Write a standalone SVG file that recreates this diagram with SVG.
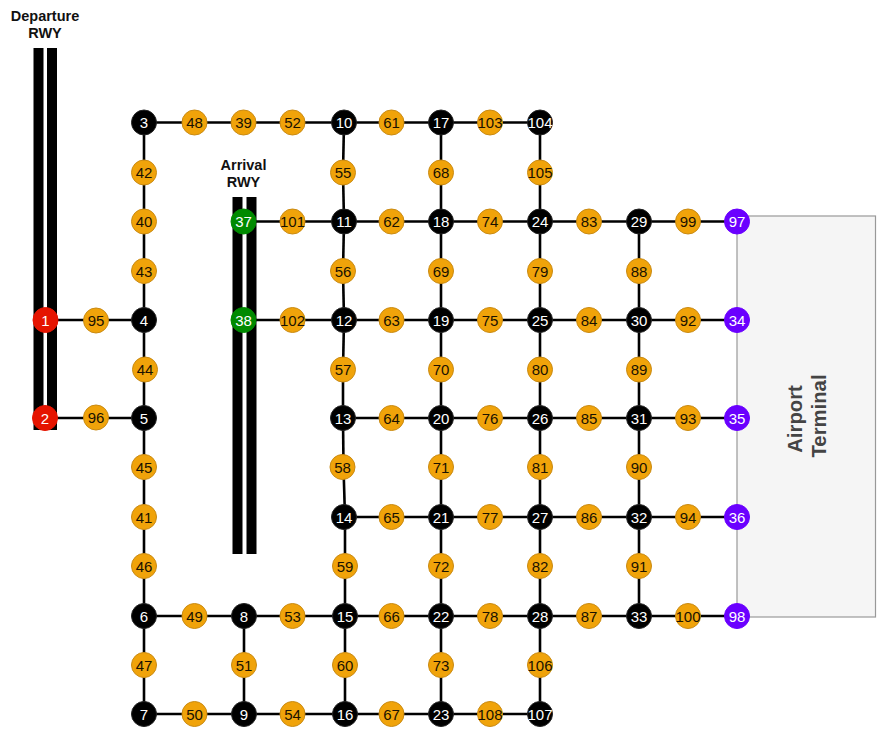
<svg xmlns="http://www.w3.org/2000/svg" width="890" height="746" viewBox="0 0 890 746">
<style>
text{font-family:"Liberation Sans",Arial,sans-serif}
.n text{font-size:15px;text-anchor:middle;dominant-baseline:central}
.n circle{stroke-width:1}
.o circle{fill:#f0a30a;stroke:#c98a12}
.o text{fill:#1a1200}
.b circle{fill:#000;stroke:#222}
.r circle{fill:#e51400;stroke:#e51400}
.g circle{fill:#008a00;stroke:#008a00}
.p circle{fill:#6a00ff;stroke:#6a00ff}
.b text,.r text,.g text,.p text{fill:#fff}
.rw{fill:#000}
.lb{font-size:14.5px;font-weight:bold;text-anchor:middle;fill:#111}
#edges line{stroke:#000;stroke-width:2.6}
</style>
<g id="terminal"><rect x="737" y="216" width="138.500" height="401" fill="#f5f5f5" stroke="#999" stroke-width="1.200"/>
<text transform="translate(801.700,419) rotate(-90)" text-anchor="middle" font-size="20.300" font-weight="bold" fill="#444">Airport</text>
<text transform="translate(825.700,416) rotate(-90)" text-anchor="middle" font-size="20.300" font-weight="bold" fill="#444">Terminal</text></g>
<g id="departure-rwy"><rect class="rw" x="33.500" y="48" width="10" height="382"/><rect class="rw" x="47" y="48" width="10" height="382"/><text class="lb" x="45" y="21">Departure</text><text class="lb" x="45" y="38">RWY</text></g>
<g id="arrival-rwy"><rect class="rw" x="232.500" y="197" width="10" height="357"/><rect class="rw" x="246.500" y="197" width="10" height="357"/><text class="lb" x="243.500" y="170">Arrival</text><text class="lb" x="243.500" y="187">RWY</text></g>
<g id="edges">
<line x1="144" y1="122.500" x2="194.500" y2="122.500"/><line x1="194.500" y1="122.500" x2="243.500" y2="122.500"/><line x1="243.500" y1="122.500" x2="292.500" y2="122.500"/><line x1="292.500" y1="122.500" x2="344" y2="122.500"/><line x1="344" y1="122.500" x2="391.500" y2="122.500"/><line x1="391.500" y1="122.500" x2="441" y2="122.500"/><line x1="441" y1="122.500" x2="490" y2="122.500"/><line x1="490" y1="122.500" x2="540" y2="122.500"/>
<line x1="243.500" y1="221.500" x2="292.500" y2="221.500"/><line x1="292.500" y1="221.500" x2="344" y2="221.500"/><line x1="344" y1="221.500" x2="391.500" y2="221.500"/><line x1="391.500" y1="221.500" x2="441" y2="221.500"/><line x1="441" y1="221.500" x2="490" y2="221.500"/><line x1="490" y1="221.500" x2="540" y2="221.500"/><line x1="540" y1="221.500" x2="589" y2="221.500"/><line x1="589" y1="221.500" x2="639" y2="221.500"/><line x1="639" y1="221.500" x2="688" y2="221.500"/><line x1="688" y1="221.500" x2="737" y2="221.500"/>
<line x1="45.500" y1="320" x2="96" y2="320"/><line x1="96" y1="320" x2="144" y2="320"/>
<line x1="243.500" y1="320" x2="292.500" y2="320"/><line x1="292.500" y1="320" x2="344" y2="320"/><line x1="344" y1="320" x2="391.500" y2="320"/><line x1="391.500" y1="320" x2="441" y2="320"/><line x1="441" y1="320" x2="490" y2="320"/><line x1="490" y1="320" x2="540" y2="320"/><line x1="540" y1="320" x2="589" y2="320"/><line x1="589" y1="320" x2="639" y2="320"/><line x1="639" y1="320" x2="688" y2="320"/><line x1="688" y1="320" x2="737" y2="320"/>
<line x1="45" y1="418" x2="96" y2="418"/><line x1="96" y1="418" x2="144" y2="418"/>
<line x1="343" y1="418" x2="391.500" y2="418"/><line x1="391.500" y1="418" x2="441" y2="418"/><line x1="441" y1="418" x2="490" y2="418"/><line x1="490" y1="418" x2="540" y2="418"/><line x1="540" y1="418" x2="589" y2="418"/><line x1="589" y1="418" x2="639" y2="418"/><line x1="639" y1="418" x2="688" y2="418"/><line x1="688" y1="418" x2="737" y2="418"/>
<line x1="344" y1="517" x2="391.500" y2="517"/><line x1="391.500" y1="517" x2="441" y2="517"/><line x1="441" y1="517" x2="490" y2="517"/><line x1="490" y1="517" x2="540" y2="517"/><line x1="540" y1="517" x2="589" y2="517"/><line x1="589" y1="517" x2="639" y2="517"/><line x1="639" y1="517" x2="688" y2="517"/><line x1="688" y1="517" x2="737" y2="517"/>
<line x1="144" y1="616" x2="194.500" y2="616"/><line x1="194.500" y1="616" x2="243.500" y2="616"/><line x1="243.500" y1="616" x2="292.500" y2="616"/><line x1="292.500" y1="616" x2="344" y2="616"/><line x1="344" y1="616" x2="391.500" y2="616"/><line x1="391.500" y1="616" x2="441" y2="616"/><line x1="441" y1="616" x2="490" y2="616"/><line x1="490" y1="616" x2="540" y2="616"/><line x1="540" y1="616" x2="589" y2="616"/><line x1="589" y1="616" x2="639" y2="616"/><line x1="639" y1="616" x2="688" y2="616"/><line x1="688" y1="616" x2="737" y2="616"/>
<line x1="144" y1="714" x2="194.500" y2="714"/><line x1="194.500" y1="714" x2="243.500" y2="714"/><line x1="243.500" y1="714" x2="292.500" y2="714"/><line x1="292.500" y1="714" x2="344" y2="714"/><line x1="344" y1="714" x2="391.500" y2="714"/><line x1="391.500" y1="714" x2="441" y2="714"/><line x1="441" y1="714" x2="490" y2="714"/><line x1="490" y1="714" x2="540" y2="714"/>
<line x1="144" y1="122.500" x2="144" y2="172.500"/><line x1="144" y1="172.500" x2="144" y2="221.500"/><line x1="144" y1="221.500" x2="144" y2="271"/><line x1="144" y1="271" x2="144" y2="320"/><line x1="144" y1="320" x2="144" y2="369.500"/><line x1="144" y1="369.500" x2="144" y2="418"/><line x1="144" y1="418" x2="144" y2="467"/><line x1="144" y1="467" x2="144" y2="517"/><line x1="144" y1="517" x2="144" y2="566"/><line x1="144" y1="566" x2="144" y2="616"/><line x1="144" y1="616" x2="144" y2="665"/><line x1="144" y1="665" x2="144" y2="714"/>
<line x1="244" y1="616" x2="244" y2="665"/><line x1="244" y1="665" x2="244" y2="714"/>
<line x1="344" y1="122.500" x2="343" y2="172.500"/><line x1="343" y1="172.500" x2="344" y2="221.500"/><line x1="344" y1="221.500" x2="343" y2="271"/><line x1="343" y1="271" x2="344" y2="320"/><line x1="344" y1="320" x2="343" y2="369.500"/><line x1="343" y1="369.500" x2="343" y2="418"/><line x1="343" y1="418" x2="343.500" y2="467"/><line x1="343.500" y1="467" x2="345" y2="517"/><line x1="345" y1="517" x2="345" y2="566"/><line x1="345" y1="566" x2="345" y2="616"/><line x1="345" y1="616" x2="345" y2="665"/><line x1="345" y1="665" x2="345" y2="714"/>
<line x1="441" y1="122.500" x2="441" y2="172.500"/><line x1="441" y1="172.500" x2="441" y2="221.500"/><line x1="441" y1="221.500" x2="441" y2="271"/><line x1="441" y1="271" x2="441" y2="320"/><line x1="441" y1="320" x2="441" y2="369.500"/><line x1="441" y1="369.500" x2="441" y2="418"/><line x1="441" y1="418" x2="441" y2="467"/><line x1="441" y1="467" x2="441" y2="517"/><line x1="441" y1="517" x2="441" y2="566"/><line x1="441" y1="566" x2="441" y2="616"/><line x1="441" y1="616" x2="441" y2="665"/><line x1="441" y1="665" x2="441" y2="714"/>
<line x1="540" y1="122.500" x2="540" y2="172.500"/><line x1="540" y1="172.500" x2="540" y2="221.500"/><line x1="540" y1="221.500" x2="540" y2="271"/><line x1="540" y1="271" x2="540" y2="320"/><line x1="540" y1="320" x2="540" y2="369.500"/><line x1="540" y1="369.500" x2="540" y2="418"/><line x1="540" y1="418" x2="540" y2="467"/><line x1="540" y1="467" x2="540" y2="517"/><line x1="540" y1="517" x2="540" y2="566"/><line x1="540" y1="566" x2="540" y2="616"/><line x1="540" y1="616" x2="540" y2="665"/><line x1="540" y1="665" x2="540" y2="714"/>
<line x1="639" y1="221.500" x2="639" y2="271"/><line x1="639" y1="271" x2="639" y2="320"/><line x1="639" y1="320" x2="639" y2="369.500"/><line x1="639" y1="369.500" x2="639" y2="418"/><line x1="639" y1="418" x2="639" y2="467"/><line x1="639" y1="467" x2="639" y2="517"/><line x1="639" y1="517" x2="639" y2="566"/><line x1="639" y1="566" x2="639" y2="616"/>
</g>
<g id="nodes">
<g id="n1" class="n r"><circle cx="45.500" cy="320" r="12.500"/><text x="45.500" y="320">1</text></g>
<g id="n2" class="n r"><circle cx="45" cy="418" r="12.500"/><text x="45" y="418">2</text></g>
<g id="n3" class="n b"><circle cx="144" cy="122.500" r="12.500"/><text x="144" y="122.500">3</text></g>
<g id="n4" class="n b"><circle cx="144" cy="320" r="12.500"/><text x="144" y="320">4</text></g>
<g id="n5" class="n b"><circle cx="144" cy="418" r="12.500"/><text x="144" y="418">5</text></g>
<g id="n6" class="n b"><circle cx="144" cy="616" r="12.500"/><text x="144" y="616">6</text></g>
<g id="n7" class="n b"><circle cx="144" cy="714" r="12.500"/><text x="144" y="714">7</text></g>
<g id="n8" class="n b"><circle cx="244" cy="616" r="12.500"/><text x="244" y="616">8</text></g>
<g id="n9" class="n b"><circle cx="244" cy="714" r="12.500"/><text x="244" y="714">9</text></g>
<g id="n10" class="n b"><circle cx="344" cy="122.500" r="12.500"/><text x="344" y="122.500">10</text></g>
<g id="n11" class="n b"><circle cx="344" cy="221.500" r="12.500"/><text x="344" y="221.500">11</text></g>
<g id="n12" class="n b"><circle cx="344" cy="320" r="12.500"/><text x="344" y="320">12</text></g>
<g id="n13" class="n b"><circle cx="343" cy="418" r="12.500"/><text x="343" y="418">13</text></g>
<g id="n14" class="n b"><circle cx="344" cy="517" r="12.500"/><text x="344" y="517">14</text></g>
<g id="n15" class="n b"><circle cx="345" cy="616" r="12.500"/><text x="345" y="616">15</text></g>
<g id="n16" class="n b"><circle cx="345" cy="714" r="12.500"/><text x="345" y="714">16</text></g>
<g id="n17" class="n b"><circle cx="441" cy="122.500" r="12.500"/><text x="441" y="122.500">17</text></g>
<g id="n18" class="n b"><circle cx="441" cy="221.500" r="12.500"/><text x="441" y="221.500">18</text></g>
<g id="n19" class="n b"><circle cx="441" cy="320" r="12.500"/><text x="441" y="320">19</text></g>
<g id="n20" class="n b"><circle cx="441" cy="418" r="12.500"/><text x="441" y="418">20</text></g>
<g id="n21" class="n b"><circle cx="441" cy="517" r="12.500"/><text x="441" y="517">21</text></g>
<g id="n22" class="n b"><circle cx="441" cy="616" r="12.500"/><text x="441" y="616">22</text></g>
<g id="n23" class="n b"><circle cx="441" cy="714" r="12.500"/><text x="441" y="714">23</text></g>
<g id="n24" class="n b"><circle cx="540" cy="221.500" r="12.500"/><text x="540" y="221.500">24</text></g>
<g id="n25" class="n b"><circle cx="540" cy="320" r="12.500"/><text x="540" y="320">25</text></g>
<g id="n26" class="n b"><circle cx="540" cy="418" r="12.500"/><text x="540" y="418">26</text></g>
<g id="n27" class="n b"><circle cx="540" cy="517" r="12.500"/><text x="540" y="517">27</text></g>
<g id="n28" class="n b"><circle cx="540" cy="616" r="12.500"/><text x="540" y="616">28</text></g>
<g id="n29" class="n b"><circle cx="639" cy="221.500" r="12.500"/><text x="639" y="221.500">29</text></g>
<g id="n30" class="n b"><circle cx="639" cy="320" r="12.500"/><text x="639" y="320">30</text></g>
<g id="n31" class="n b"><circle cx="639" cy="418" r="12.500"/><text x="639" y="418">31</text></g>
<g id="n32" class="n b"><circle cx="639" cy="517" r="12.500"/><text x="639" y="517">32</text></g>
<g id="n33" class="n b"><circle cx="639" cy="616" r="12.500"/><text x="639" y="616">33</text></g>
<g id="n104" class="n b"><circle cx="540" cy="122.500" r="12.500"/><text x="540" y="122.500">104</text></g>
<g id="n107" class="n b"><circle cx="540" cy="714" r="12.500"/><text x="540" y="714">107</text></g>
<g id="n34" class="n p"><circle cx="737" cy="320" r="12.500"/><text x="737" y="320">34</text></g>
<g id="n35" class="n p"><circle cx="737" cy="418" r="12.500"/><text x="737" y="418">35</text></g>
<g id="n36" class="n p"><circle cx="737" cy="517" r="12.500"/><text x="737" y="517">36</text></g>
<g id="n97" class="n p"><circle cx="737" cy="221.500" r="12.500"/><text x="737" y="221.500">97</text></g>
<g id="n98" class="n p"><circle cx="737" cy="616" r="12.500"/><text x="737" y="616">98</text></g>
<g id="n37" class="n g"><circle cx="243.500" cy="221.500" r="12.500"/><text x="243.500" y="221.500">37</text></g>
<g id="n38" class="n g"><circle cx="243.500" cy="320" r="12.500"/><text x="243.500" y="320">38</text></g>
<g id="n39" class="n o"><circle cx="243.500" cy="122.500" r="12.500"/><text x="243.500" y="122.500">39</text></g>
<g id="n40" class="n o"><circle cx="144" cy="221.500" r="12.500"/><text x="144" y="221.500">40</text></g>
<g id="n41" class="n o"><circle cx="144" cy="517" r="12.500"/><text x="144" y="517">41</text></g>
<g id="n42" class="n o"><circle cx="144" cy="172.500" r="12.500"/><text x="144" y="172.500">42</text></g>
<g id="n43" class="n o"><circle cx="144" cy="271" r="12.500"/><text x="144" y="271">43</text></g>
<g id="n44" class="n o"><circle cx="145" cy="369.500" r="12.500"/><text x="145" y="369.500">44</text></g>
<g id="n45" class="n o"><circle cx="144" cy="467" r="12.500"/><text x="144" y="467">45</text></g>
<g id="n46" class="n o"><circle cx="144" cy="566" r="12.500"/><text x="144" y="566">46</text></g>
<g id="n47" class="n o"><circle cx="144" cy="665" r="12.500"/><text x="144" y="665">47</text></g>
<g id="n48" class="n o"><circle cx="194.500" cy="122.500" r="12.500"/><text x="194.500" y="122.500">48</text></g>
<g id="n49" class="n o"><circle cx="194.500" cy="616" r="12.500"/><text x="194.500" y="616">49</text></g>
<g id="n50" class="n o"><circle cx="194.500" cy="714" r="12.500"/><text x="194.500" y="714">50</text></g>
<g id="n51" class="n o"><circle cx="244" cy="665" r="12.500"/><text x="244" y="665">51</text></g>
<g id="n52" class="n o"><circle cx="292.500" cy="122.500" r="12.500"/><text x="292.500" y="122.500">52</text></g>
<g id="n53" class="n o"><circle cx="292.500" cy="616" r="12.500"/><text x="292.500" y="616">53</text></g>
<g id="n54" class="n o"><circle cx="292.500" cy="714" r="12.500"/><text x="292.500" y="714">54</text></g>
<g id="n55" class="n o"><circle cx="343" cy="172.500" r="12.500"/><text x="343" y="172.500">55</text></g>
<g id="n56" class="n o"><circle cx="343" cy="271" r="12.500"/><text x="343" y="271">56</text></g>
<g id="n57" class="n o"><circle cx="343" cy="369.500" r="12.500"/><text x="343" y="369.500">57</text></g>
<g id="n58" class="n o"><circle cx="342.500" cy="467" r="12.500"/><text x="342.500" y="467">58</text></g>
<g id="n59" class="n o"><circle cx="345" cy="566" r="12.500"/><text x="345" y="566">59</text></g>
<g id="n60" class="n o"><circle cx="345" cy="665" r="12.500"/><text x="345" y="665">60</text></g>
<g id="n61" class="n o"><circle cx="391.500" cy="122.500" r="12.500"/><text x="391.500" y="122.500">61</text></g>
<g id="n62" class="n o"><circle cx="391.500" cy="221.500" r="12.500"/><text x="391.500" y="221.500">62</text></g>
<g id="n63" class="n o"><circle cx="391.500" cy="320" r="12.500"/><text x="391.500" y="320">63</text></g>
<g id="n64" class="n o"><circle cx="391.500" cy="418" r="12.500"/><text x="391.500" y="418">64</text></g>
<g id="n65" class="n o"><circle cx="391.500" cy="517" r="12.500"/><text x="391.500" y="517">65</text></g>
<g id="n66" class="n o"><circle cx="391.500" cy="616" r="12.500"/><text x="391.500" y="616">66</text></g>
<g id="n67" class="n o"><circle cx="391.500" cy="714" r="12.500"/><text x="391.500" y="714">67</text></g>
<g id="n68" class="n o"><circle cx="441" cy="172.500" r="12.500"/><text x="441" y="172.500">68</text></g>
<g id="n69" class="n o"><circle cx="441" cy="271" r="12.500"/><text x="441" y="271">69</text></g>
<g id="n70" class="n o"><circle cx="441" cy="369.500" r="12.500"/><text x="441" y="369.500">70</text></g>
<g id="n71" class="n o"><circle cx="441" cy="467" r="12.500"/><text x="441" y="467">71</text></g>
<g id="n72" class="n o"><circle cx="441" cy="566" r="12.500"/><text x="441" y="566">72</text></g>
<g id="n73" class="n o"><circle cx="441" cy="665" r="12.500"/><text x="441" y="665">73</text></g>
<g id="n74" class="n o"><circle cx="490" cy="221.500" r="12.500"/><text x="490" y="221.500">74</text></g>
<g id="n75" class="n o"><circle cx="490" cy="320" r="12.500"/><text x="490" y="320">75</text></g>
<g id="n76" class="n o"><circle cx="490" cy="418" r="12.500"/><text x="490" y="418">76</text></g>
<g id="n77" class="n o"><circle cx="490" cy="517" r="12.500"/><text x="490" y="517">77</text></g>
<g id="n78" class="n o"><circle cx="490" cy="616" r="12.500"/><text x="490" y="616">78</text></g>
<g id="n79" class="n o"><circle cx="540" cy="271" r="12.500"/><text x="540" y="271">79</text></g>
<g id="n80" class="n o"><circle cx="540" cy="369.500" r="12.500"/><text x="540" y="369.500">80</text></g>
<g id="n81" class="n o"><circle cx="540" cy="467" r="12.500"/><text x="540" y="467">81</text></g>
<g id="n82" class="n o"><circle cx="540" cy="566" r="12.500"/><text x="540" y="566">82</text></g>
<g id="n83" class="n o"><circle cx="589" cy="221.500" r="12.500"/><text x="589" y="221.500">83</text></g>
<g id="n84" class="n o"><circle cx="589" cy="320" r="12.500"/><text x="589" y="320">84</text></g>
<g id="n85" class="n o"><circle cx="589" cy="418" r="12.500"/><text x="589" y="418">85</text></g>
<g id="n86" class="n o"><circle cx="589" cy="517" r="12.500"/><text x="589" y="517">86</text></g>
<g id="n87" class="n o"><circle cx="589" cy="616" r="12.500"/><text x="589" y="616">87</text></g>
<g id="n88" class="n o"><circle cx="639" cy="271" r="12.500"/><text x="639" y="271">88</text></g>
<g id="n89" class="n o"><circle cx="639" cy="369.500" r="12.500"/><text x="639" y="369.500">89</text></g>
<g id="n90" class="n o"><circle cx="639" cy="467" r="12.500"/><text x="639" y="467">90</text></g>
<g id="n91" class="n o"><circle cx="639" cy="566" r="12.500"/><text x="639" y="566">91</text></g>
<g id="n92" class="n o"><circle cx="688" cy="320" r="12.500"/><text x="688" y="320">92</text></g>
<g id="n93" class="n o"><circle cx="688" cy="418" r="12.500"/><text x="688" y="418">93</text></g>
<g id="n94" class="n o"><circle cx="688" cy="517" r="12.500"/><text x="688" y="517">94</text></g>
<g id="n95" class="n o"><circle cx="96" cy="320.500" r="12.500"/><text x="96" y="320.500">95</text></g>
<g id="n96" class="n o"><circle cx="96" cy="417.500" r="12.500"/><text x="96" y="417.500">96</text></g>
<g id="n99" class="n o"><circle cx="688" cy="221.500" r="12.500"/><text x="688" y="221.500">99</text></g>
<g id="n100" class="n o"><circle cx="688" cy="616" r="12.500"/><text x="688" y="616">100</text></g>
<g id="n101" class="n o"><circle cx="292.500" cy="221.500" r="12.500"/><text x="292.500" y="221.500">101</text></g>
<g id="n102" class="n o"><circle cx="292.500" cy="320" r="12.500"/><text x="292.500" y="320">102</text></g>
<g id="n103" class="n o"><circle cx="490" cy="122.500" r="12.500"/><text x="490" y="122.500">103</text></g>
<g id="n105" class="n o"><circle cx="540" cy="172.500" r="12.500"/><text x="540" y="172.500">105</text></g>
<g id="n106" class="n o"><circle cx="540" cy="665" r="12.500"/><text x="540" y="665">106</text></g>
<g id="n108" class="n o"><circle cx="490" cy="714" r="12.500"/><text x="490" y="714">108</text></g>
</g>
</svg>
